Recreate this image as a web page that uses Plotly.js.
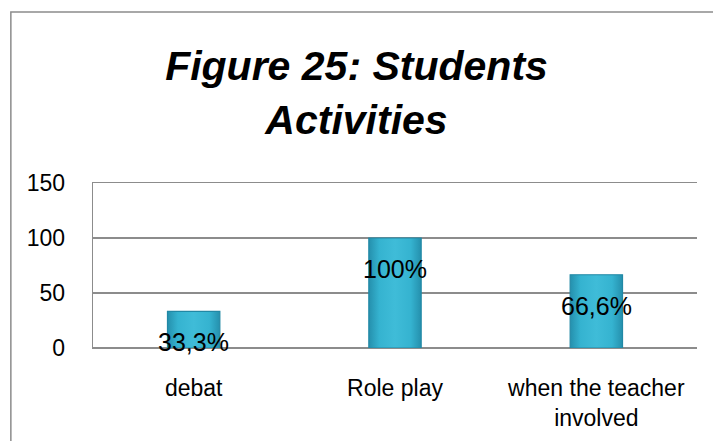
<!DOCTYPE html>
<html>
<head>
<meta charset="utf-8">
<script src="https://cdn.plot.ly/plotly-3.0.1.min.js"></script>
<style>
  html, body { margin: 0; padding: 0; background: #fff; }
  #chart { width: 713px; height: 441px; }
</style>
</head>
<body>
<div id="chart"></div>
<script>
var categories = ['debat', 'Role play', 'when the teacher<br>involved'];
var values = [33.3, 100, 66.6];
var valueLabels = ['33,3%', '100%', '66,6%'];
var yTicks = [0, 50, 100, 150];

var font = 'Liberation Sans, Arial, sans-serif';

var trace = {
  type: 'bar',
  x: categories,
  y: values,
  width: 0.26,
  marker: {color: '#31acc9', line: {color: '#2188a5', width: 1.2}},
  hoverinfo: 'none'
};

// value labels sit a bit below the top of each bar
var notes = categories.map(function (c, i) {
  return {
    x: c, y: values[i], xref: 'x', yref: 'y',
    text: valueLabels[i], showarrow: false,
    yshift: -31,
    font: {family: font, size: 25, color: '#000'}
  };
});

var layout = {
  width: 713, height: 441,
  margin: {l: 93, r: 16, t: 183, b: 93},
  paper_bgcolor: '#fff', plot_bgcolor: '#fff',
  showlegend: false,
  title: {
    text: '<b><i>Figure 25: Students<br>Activities</i></b>',
    font: {family: font, size: 41, color: '#000'},
    x: 0.5, xanchor: 'center',
    y: 0.818, yanchor: 'top'
  },
  xaxis: {
    showgrid: false, zeroline: false,
    showline: true, mirror: true, linecolor: '#8c8c8c', linewidth: 1.3,
    ticks: '', ticklabelstandoff: 19,
    tickfont: {family: font, size: 23, color: '#000'}
  },
  yaxis: {
    range: [0, 150], tickvals: yTicks,
    showgrid: true, gridcolor: '#8c8c8c', gridwidth: 1.3,
    zeroline: true, zerolinecolor: '#8c8c8c', zerolinewidth: 1.3,
    showline: true, linecolor: '#8c8c8c', linewidth: 1.3,
    ticks: '', ticklabelstandoff: 22,
    tickfont: {family: font, size: 23, color: '#000'}
  },
  annotations: notes,
  shapes: [{
    type: 'rect', xref: 'paper', yref: 'paper',
    x0: -0.136, x1: 1.2, y0: -0.7, y1: 2.036,
    line: {color: '#8c8c8c', width: 1.5}
  }]
};

Plotly.newPlot('chart', [trace], layout, {displayModeBar: false, staticPlot: true}).then(function () {
  // give the bars a rounded look like the original
  var svg = document.querySelector('#chart .main-svg');
  var ns = 'http://www.w3.org/2000/svg';
  var defs = svg.querySelector('defs') || svg.insertBefore(document.createElementNS(ns, 'defs'), svg.firstChild);
  var g = document.createElementNS(ns, 'linearGradient');
  g.setAttribute('id', 'barGrad');
  g.setAttribute('x1', '0'); g.setAttribute('x2', '1');
  g.setAttribute('y1', '0'); g.setAttribute('y2', '0');
  [['0', '#2590ad'], ['0.2', '#35b3d0'], ['0.5', '#3fbcd8'], ['0.8', '#35b3d0'], ['1', '#2590ad']].forEach(function (s) {
    var st = document.createElementNS(ns, 'stop');
    st.setAttribute('offset', s[0]);
    st.setAttribute('stop-color', s[1]);
    g.appendChild(st);
  });
  defs.appendChild(g);
  document.querySelectorAll('#chart .bars path').forEach(function (p) {
    p.style.fill = 'url(#barGrad)';
  });
});
</script>
</body>
</html>
